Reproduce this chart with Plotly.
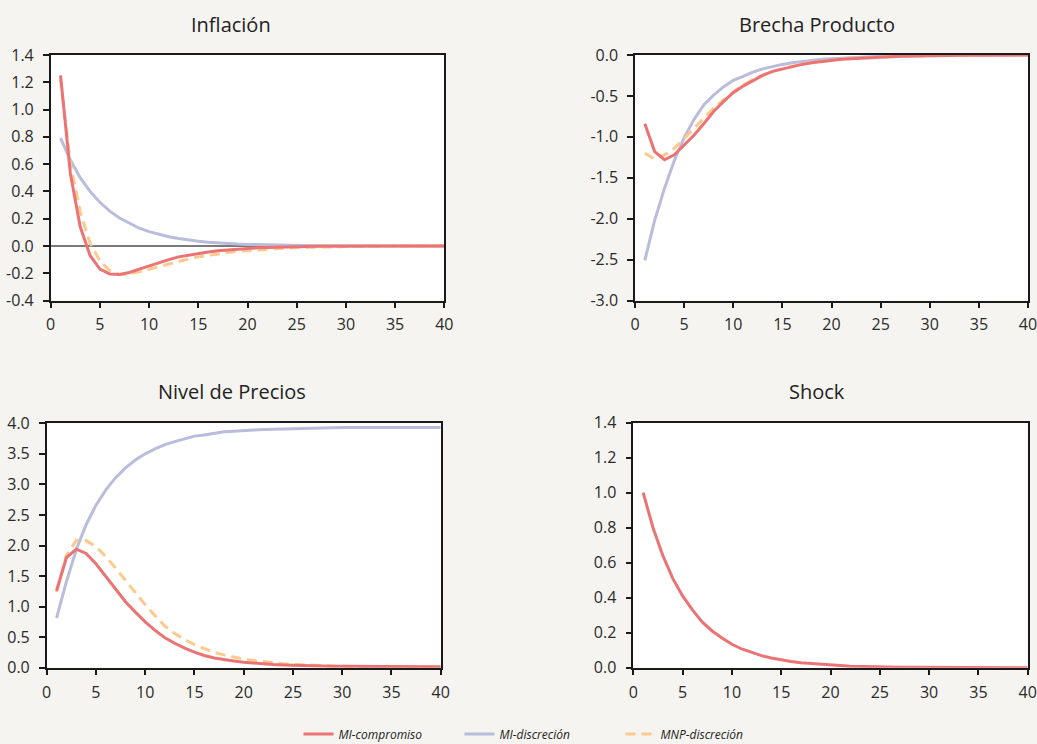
import plotly.graph_objects as go

periods = list(range(1, 41))

# Inflación
infl_comp = [1.25, 0.53, 0.14, -0.07, -0.17, -0.205, -0.21, -0.195, -0.17, -0.145,
             -0.12, -0.10, -0.08, -0.067, -0.055, -0.045, -0.036, -0.029, -0.023, -0.018,
             -0.014, -0.011, -0.008, -0.006, -0.005, -0.004, -0.003, -0.002, -0.002, -0.001,
             -0.001, -0.001, 0.0, 0.0, 0.0, 0.0, 0.0, 0.0, 0.0, 0.0]
infl_disc = [0.79, 0.63, 0.50, 0.40, 0.32, 0.255, 0.205, 0.165, 0.13, 0.105,
             0.085, 0.068, 0.055, 0.044, 0.035, 0.028, 0.022, 0.018, 0.014, 0.011,
             0.009, 0.007, 0.006, 0.005, 0.004, 0.003, 0.002, 0.002, 0.001, 0.001,
             0.001, 0.0, 0.0, 0.0, 0.0, 0.0, 0.0, 0.0, 0.0, 0.0]
infl_mnp = [1.22, 0.60, 0.25, 0.02, -0.11, -0.18, -0.21, -0.205, -0.19, -0.17,
            -0.15, -0.13, -0.11, -0.095, -0.08, -0.068, -0.057, -0.048, -0.04, -0.034,
            -0.028, -0.023, -0.019, -0.015, -0.012, -0.01, -0.008, -0.006, -0.005, -0.004,
            -0.003, -0.002, -0.002, -0.001, -0.001, 0.0, 0.0, 0.0, 0.0, 0.0]

# Brecha Producto
gap_comp = [-0.84, -1.18, -1.28, -1.22, -1.10, -0.98, -0.84, -0.69, -0.57, -0.46,
            -0.38, -0.31, -0.25, -0.20, -0.17, -0.14, -0.115, -0.094, -0.078, -0.065,
            -0.053, -0.045, -0.037, -0.03, -0.024, -0.02, -0.016, -0.012, -0.01, -0.008,
            -0.006, -0.005, -0.004, -0.003, -0.002, -0.002, -0.001, -0.001, -0.001, 0.0]
gap_disc = [-2.51, -2.02, -1.63, -1.29, -1.01, -0.79, -0.61, -0.49, -0.39, -0.31,
            -0.26, -0.21, -0.17, -0.14, -0.115, -0.094, -0.078, -0.065, -0.053, -0.045,
            -0.037, -0.03, -0.024, -0.02, -0.016, -0.012, -0.01, -0.008, -0.006, -0.005,
            -0.004, -0.003, -0.002, -0.002, -0.001, -0.001, 0.0, 0.0, 0.0, 0.0]
gap_mnp = [-1.20, -1.27, -1.22, -1.14, -1.02, -0.90, -0.78, -0.65, -0.55, -0.45,
           -0.37, -0.30, -0.245, -0.20, -0.165, -0.135, -0.11, -0.09, -0.074, -0.06,
           -0.05, -0.041, -0.034, -0.028, -0.022, -0.018, -0.014, -0.011, -0.009, -0.007,
           -0.005, -0.004, -0.003, -0.002, -0.002, -0.001, -0.001, 0.0, 0.0, 0.0]

# Nivel de Precios
price_comp = [1.26, 1.80, 1.94, 1.87, 1.70, 1.49, 1.27, 1.08, 0.91, 0.75,
              0.61, 0.49, 0.40, 0.32, 0.255, 0.20, 0.16, 0.13, 0.11, 0.09,
              0.075, 0.062, 0.052, 0.045, 0.039, 0.034, 0.03, 0.027, 0.024, 0.022,
              0.02, 0.019, 0.018, 0.017, 0.016, 0.016, 0.015, 0.015, 0.015, 0.015]
price_disc = [0.81, 1.41, 1.93, 2.34, 2.66, 2.91, 3.11, 3.27, 3.40, 3.50,
              3.58, 3.65, 3.70, 3.74, 3.79, 3.81, 3.84, 3.86, 3.87, 3.885,
              3.89, 3.90, 3.905, 3.91, 3.915, 3.92, 3.92, 3.92, 3.925, 3.93,
              3.93, 3.93, 3.93, 3.93, 3.93, 3.93, 3.93, 3.93, 3.93, 3.93]
price_mnp = [1.24, 1.84, 2.08, 2.08, 1.98, 1.82, 1.63, 1.43, 1.22, 1.03,
             0.85, 0.68, 0.56, 0.46, 0.38, 0.31, 0.25, 0.21, 0.17, 0.14,
             0.12, 0.10, 0.08, 0.066, 0.055, 0.046, 0.039, 0.032, 0.027, 0.023,
             0.02, 0.018, 0.016, 0.015, 0.014, 0.013, 0.012, 0.012, 0.012, 0.012]

# Shock
shock = [1.0, 0.8, 0.64, 0.51, 0.41, 0.33, 0.26, 0.21, 0.17, 0.134,
         0.107, 0.086, 0.069, 0.055, 0.044, 0.035, 0.028, 0.023, 0.018, 0.014,
         0.012, 0.009, 0.007, 0.006, 0.005, 0.004, 0.003, 0.002, 0.002, 0.001,
         0.001, 0.001, 0.001, 0.0, 0.0, 0.0, 0.0, 0.0, 0.0, 0.0]

titles = ["Inflación", "Brecha Producto", "Nivel de Precios", "Shock"]
series_names = ["MI-compromiso", "MI-discreción", "MNP-discreción"]

# Tick values and labels
x_ticks = [0, 5, 10, 15, 20, 25, 30, 35, 40]
infl_ticks = [-0.4, -0.2, 0.0, 0.2, 0.4, 0.6, 0.8, 1.0, 1.2, 1.4]
infl_labels = ["-0.4", "-0.2", "0.0", "0.2", "0.4", "0.6", "0.8", "1.0", "1.2", "1.4"]
gap_ticks = [-3.0, -2.5, -2.0, -1.5, -1.0, -0.5, 0.0]
gap_labels = ["-3.0", "-2.5", "-2.0", "-1.5", "-1.0", "-0.5", "0.0"]
price_ticks = [0.0, 0.5, 1.0, 1.5, 2.0, 2.5, 3.0, 3.5, 4.0]
price_labels = ["0.0", "0.5", "1.0", "1.5", "2.0", "2.5", "3.0", "3.5", "4.0"]
shock_ticks = [0.0, 0.2, 0.4, 0.6, 0.8, 1.0, 1.2, 1.4]
shock_labels = ["0.0", "0.2", "0.4", "0.6", "0.8", "1.0", "1.2", "1.4"]

RED = "#ec7373"
LAV = "#b9bcdc"
ORA = "#fdc98c"
BG = "#f5f4f0"
FONT = "Open Sans"

fig = go.Figure()

panels = [
    ("x", "y", infl_comp, infl_disc, infl_mnp),
    ("x2", "y2", gap_comp, gap_disc, gap_mnp),
    ("x3", "y3", price_comp, price_disc, price_mnp),
]

for i, (xa, ya, comp, disc, mnp) in enumerate(panels):
    first = i == 0
    fig.add_trace(go.Scatter(x=periods, y=disc, xaxis=xa, yaxis=ya, mode="lines",
                             line=dict(color=LAV, width=3), name=series_names[1],
                             showlegend=first, legendrank=2, hoverinfo="skip"))
    fig.add_trace(go.Scatter(x=periods, y=mnp, xaxis=xa, yaxis=ya, mode="lines",
                             line=dict(color=ORA, width=3, dash="10px,6px"), name=series_names[2],
                             showlegend=first, legendrank=3, hoverinfo="skip"))
    fig.add_trace(go.Scatter(x=periods, y=comp, xaxis=xa, yaxis=ya, mode="lines",
                             line=dict(color=RED, width=3), name=series_names[0],
                             showlegend=first, legendrank=1, hoverinfo="skip"))

fig.add_trace(go.Scatter(x=periods, y=shock, xaxis="x4", yaxis="y4", mode="lines",
                         line=dict(color=RED, width=3), name=series_names[0],
                         showlegend=False, hoverinfo="skip"))

W, H = 1037, 744
def px(a, b):
    return [a / W, b / W]
def py(top, bottom):
    return [1 - bottom / H, 1 - top / H]

axis_common = dict(showline=True, linecolor="#1a1a1a", linewidth=1.5, mirror=True,
                   ticks="outside", ticklen=6, tickwidth=1.5, tickcolor="#1a1a1a",
                   showgrid=False, automargin=False, ticklabeloverflow="allow",
                   tickfont=dict(family=FONT, size=16, color="#2a2a2a"))

xcommon = dict(axis_common, range=[0, 40], tickmode="array", tickvals=x_ticks,
               ticktext=[str(v) for v in x_ticks], zeroline=False, ticklabelstandoff=3)
ycommon = dict(axis_common, tickmode="array", ticklabelstandoff=6)

layout_axes = dict(
    xaxis=dict(xcommon, domain=px(50.7, 444.3), anchor="y"),
    yaxis=dict(ycommon, domain=py(55, 300.5), anchor="x", range=[-0.4, 1.4],
               tickvals=infl_ticks, ticktext=infl_labels,
               zeroline=True, zerolinecolor="#7a7a7a", zerolinewidth=1.5),
    xaxis2=dict(xcommon, domain=px(635, 1028), anchor="y2"),
    yaxis2=dict(ycommon, domain=py(55, 300.5), anchor="x2", range=[-3.0, 0.0],
                tickvals=gap_ticks, ticktext=gap_labels, zeroline=False),
    xaxis3=dict(xcommon, domain=px(46.7, 440.7), anchor="y3"),
    yaxis3=dict(ycommon, domain=py(423.3, 667.7), anchor="x3", range=[0, 4.0],
                tickvals=price_ticks, ticktext=price_labels, zeroline=False),
    xaxis4=dict(xcommon, domain=px(633.3, 1027.7), anchor="y4"),
    yaxis4=dict(ycommon, domain=py(422.7, 667.7), anchor="x4", range=[0, 1.4],
                tickvals=shock_ticks, ticktext=shock_labels, zeroline=False),
)

title_pos = [(231, 25), (817, 25), (231.5, 391), (817, 391)]
annotations = []
for t, (cx, cy) in zip(titles, title_pos):
    annotations.append(dict(text=t, x=cx / W, y=1 - cy / H, xref="paper", yref="paper",
                            xanchor="center", yanchor="middle", showarrow=False,
                            font=dict(family=FONT, size=20, color="#222222")))

fig.update_layout(
    width=W, height=H,
    margin=dict(l=0, r=0, t=0, b=0, autoexpand=False),
    paper_bgcolor=BG, plot_bgcolor="white",
    annotations=annotations,
    legend=dict(orientation="h", x=540 / W, xanchor="center", y=-0.006, yanchor="bottom",
                font=dict(family=FONT, size=12, color="#222222", style="italic"),
                bgcolor="rgba(0,0,0,0)", itemwidth=30, tracegroupgap=0,
                entrywidth=116, entrywidthmode="pixels"),
    **layout_axes,
)

fig.write_html("out.html")
